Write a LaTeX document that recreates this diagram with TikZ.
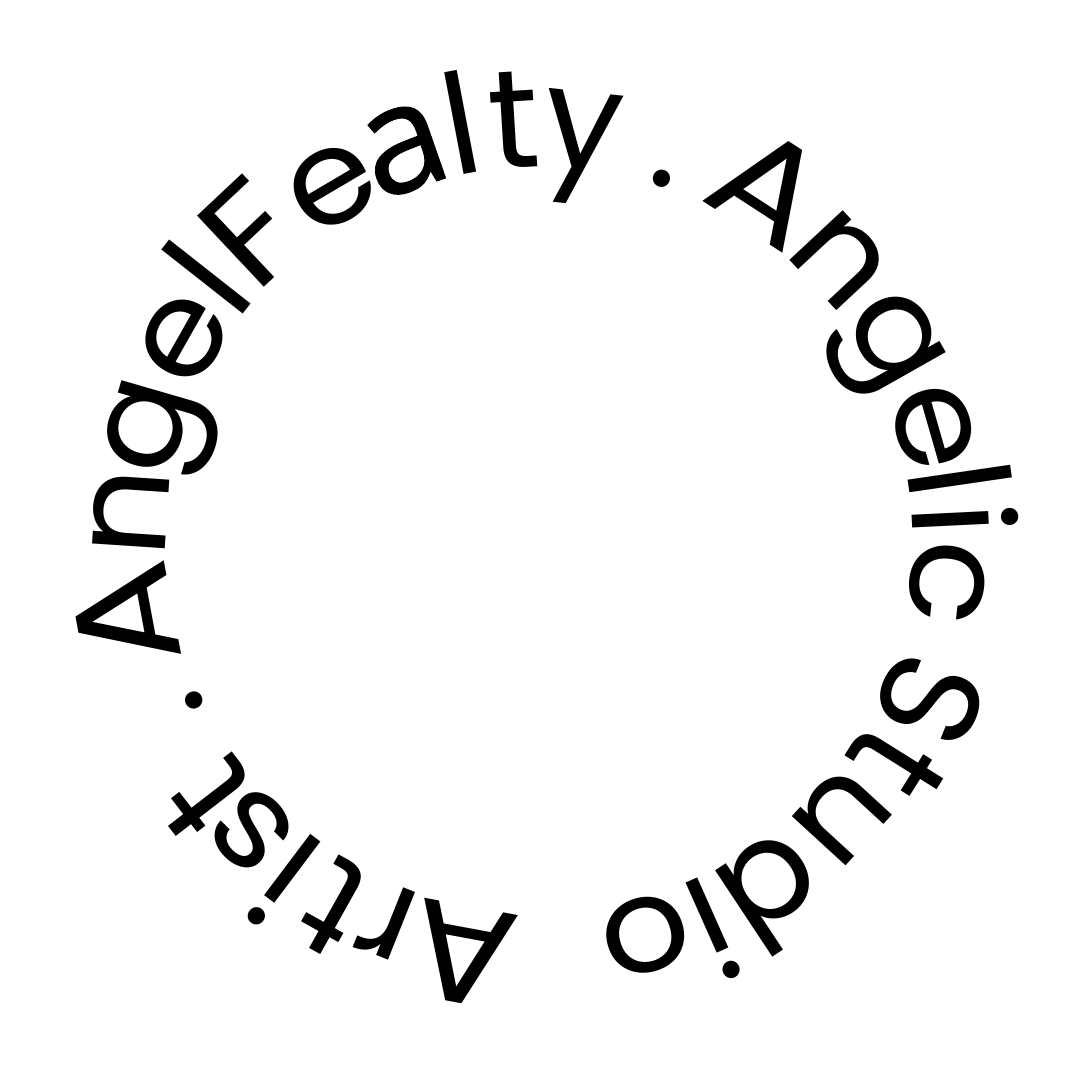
\documentclass[tikz,border=0pt]{standalone}
\usepackage{fontspec}
\usepackage{graphicx}
\usetikzlibrary{calc}
\setmainfont{Poppins}
\newfontfamily\afont[FakeBold=0.7]{Open Sans}
\newcommand{\xh}[1]{\scalebox{1}[0.95]{#1}}
\newcommand{\wide}[1]{\scalebox{1.12}[1]{#1}}
\tikzset{glyph/.style={anchor=base,inner sep=0pt,outer sep=0pt,font=\fontsize{140}{150}\selectfont,text=black}}
\begin{document}
\begin{tikzpicture}[x=1pt,y=1pt]
\useasboundingbox[fill=white] (0,0) rectangle (1080,1080);
\coordinate (c) at (540,540);
\foreach \n/\t/\a in {a1/{\wide{A}}/190.5,a2/{\xh{n}}/176.2,a3/{\xh{g}}/163.8,a4/{\xh{e}}/150.5,a5/l/141.8,a6/{\wide{F}}/133.2,a7/{\xh{e}}/120.5,a8/{\scalebox{1.08}{\afont a}}/109.2,a9/l/100.8,a10/t/93.5,a11/y/84,a12/./71.4,b1/{\wide{A}}/57,b2/{\xh{n}}/43,b3/{\xh{g}}/29.5,b4/{\xh{e}}/16,b5/l/8.3,b6/i/2.8,b7/{\xh{c}}/-6,c1/S/-22.3,c2/t/-32,c3/{\xh{u}}/-42.5,c4/d/-56.5,c5/i/-66,c6/{\xh{o}}/-75,d1/{\wide{A}}/-100.5,d2/{\xh{r}}/-111.8,d3/t/-119.3,d4/i/-127,d5/{\xh{s}}/-134.8,d6/t/-142.3,d7/./-155.1}
  \node[glyph,rotate=\a-90] (\n) at ($(c)+(\a:373)$) {\t};
\end{tikzpicture}
\end{document}
